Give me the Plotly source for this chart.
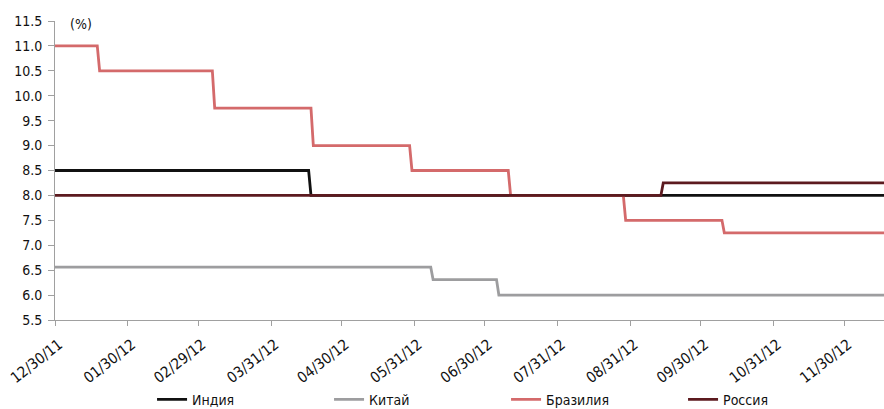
import datetime as dt
import plotly.graph_objects as go

# Policy rates, % — each series: start value, then (change date, new value)
start_date = "2011-12-30"
end_date = "2012-12-17"

india_start = 8.5
india_dates = ["2012-04-17"]
india_values = [8.0]

china_start = 6.56
china_dates = ["2012-06-08", "2012-07-06"]
china_values = [6.31, 6.0]

brazil_start = 11.0
brazil_dates = ["2012-01-18", "2012-03-07", "2012-04-18", "2012-05-30",
                "2012-07-11", "2012-08-29", "2012-10-10"]
brazil_values = [10.5, 9.75, 9.0, 8.5, 8.0, 7.5, 7.25]

russia_start = 8.0
russia_dates = ["2012-09-14"]
russia_values = [8.25]

tick_dates = ["2011-12-30", "2012-01-30", "2012-02-29", "2012-03-31",
              "2012-04-30", "2012-05-31", "2012-06-30", "2012-07-31",
              "2012-08-31", "2012-09-30", "2012-10-31", "2012-11-30"]
tick_labels = ["12/30/11", "01/30/12", "02/29/12", "03/31/12", "04/30/12",
               "05/31/12", "06/30/12", "07/31/12", "08/31/12", "09/30/12",
               "10/31/12", "11/30/12"]


def daily_steps(first, dates, values):
    """Expand rate changes into a daily series (change happens day to day)."""
    xs, ys = [start_date], [first]
    cur = first
    for d, v in zip(dates, values):
        day = dt.date.fromisoformat(d)
        xs.append((day - dt.timedelta(days=1)).isoformat())
        ys.append(cur)
        xs.append(day.isoformat())
        ys.append(v)
        cur = v
    xs.append(end_date)
    ys.append(cur)
    return xs, ys


series = [
    ("Индия", india_start, india_dates, india_values, "#111111"),
    ("Китай", china_start, china_dates, china_values, "#9d9d9f"),
    ("Бразилия", brazil_start, brazil_dates, brazil_values, "#d46a6b"),
    ("Россия", russia_start, russia_dates, russia_values, "#5c1a1f"),
]

font_family = "DejaVu Sans Condensed, Liberation Sans Narrow, sans-serif"

fig = go.Figure()
for name, first, dates, values, color in series:
    xs, ys = daily_steps(first, dates, values)
    fig.add_trace(go.Scatter(x=xs, y=ys, name=name, mode="lines",
                             line=dict(color=color, width=2.8)))

fig.update_layout(
    width=884, height=409,
    margin=dict(l=55, r=0, t=21, b=89, autoexpand=False),
    paper_bgcolor="white", plot_bgcolor="white",
    font=dict(family=font_family, size=14, color="#111111"),
    showlegend=True,
    legend=dict(orientation="h", xref="container", yref="paper",
                x=0.172, xanchor="left", y=-0.213, yanchor="top",
                entrywidth=132, entrywidthmode="pixels",
                bgcolor="rgba(0,0,0,0)",
                itemwidth=30, font=dict(size=14), traceorder="normal"),
    annotations=[dict(text="(%)", x=0.016, y=1.025, xref="paper", yref="paper",
                      xanchor="left", yanchor="top", showarrow=False,
                      font=dict(size=14))],
)

fig.update_xaxes(
    type="date", range=[start_date, end_date], automargin=False,
    tickmode="array", tickvals=tick_dates, ticktext=tick_labels,
    tickangle=-38, ticks="outside", ticklen=5, tickcolor="#a0a0a0",
    ticklabelstandoff=4, ticklabelshift=4,
    showline=True, linecolor="#a0a0a0", linewidth=1, showgrid=False,
    zeroline=False, tickfont=dict(size=15),
)
fig.update_yaxes(
    range=[5.5, 11.5], dtick=0.5, tickformat=".1f", automargin=False,
    ticks="outside", ticklen=6, tickcolor="#a0a0a0",
    ticklabelstandoff=3,
    showline=True, linecolor="#a0a0a0", linewidth=1, showgrid=False,
    zeroline=False, tickfont=dict(size=14),
)

fig.write_html("out.html")
